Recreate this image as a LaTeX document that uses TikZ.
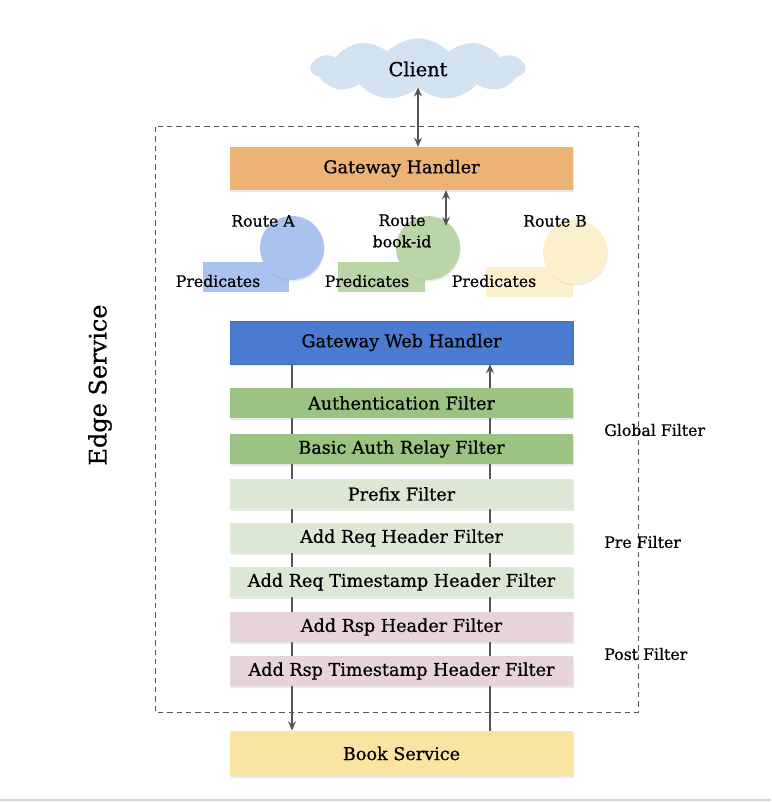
\documentclass[tikz,border=0pt]{standalone}
\usepackage{fontspec}
\setmainfont{DejaVu Serif}[FakeBold=0.6]
\usetikzlibrary{shapes.symbols,shadows,backgrounds,arrows.meta}

\definecolor{cloudblue}{HTML}{D3E2F1}
\definecolor{handlerorange}{HTML}{EDB276}
\definecolor{webblue}{HTML}{4A7BD1}
\definecolor{routeblue}{HTML}{A9C2EE}
\definecolor{routegreen}{HTML}{BAD6A8}
\definecolor{routeyellow}{HTML}{FCF0CC}
\definecolor{globalgreen}{HTML}{9DC384}
\definecolor{pregreen}{HTML}{DDE8D4}
\definecolor{postpink}{HTML}{E6D3DC}
\definecolor{serviceyellow}{HTML}{F9E4A2}
\definecolor{linegray}{HTML}{555555}

\tikzset{
  box/.style={rectangle, minimum width=257pt, minimum height=32pt, inner sep=0pt,
    font=\fontsize{13.2}{15}\selectfont,
    drop shadow={opacity=0.18, shadow xshift=0.6pt, shadow yshift=-1.4pt}},
  filterbox/.style={box, minimum height=22.5pt},
  routeball/.style={circle, minimum size=48pt, inner sep=0pt,
    drop shadow={opacity=0.15, shadow xshift=0.6pt, shadow yshift=-1.2pt}},
  predbox/.style={rectangle, minimum width=65pt, minimum height=22.5pt, inner sep=0pt},
  tag/.style={font=\fontsize{11.8}{14}\selectfont, inner sep=0pt},
  flow/.style={draw=linegray, line width=0.8pt, -{Stealth[length=7pt,width=6pt,inset=2.5pt]}},
  twoway/.style={flow, {Stealth[length=7pt,width=6pt,inset=2.5pt]}-{Stealth[length=7pt,width=6pt,inset=2.5pt]}}
}

\begin{document}
\begin{tikzpicture}[x=0.75pt,y=-0.75pt]
  \useasboundingbox (0,0) rectangle (771,802);
  % Border.
  \draw[linegray, line width=0.75pt, dash pattern=on 4pt off 3pt] (155,127) rectangle (638,712);
  \node[rotate=90, font=\fontsize{18}{22}\selectfont] (edge) at (100,385) {Edge Service};
  \draw[gray!35, line width=1.2pt] (0,800) -- (771,800);

  % Client and gateway.
  \node[cloud, cloud puffs=11, cloud puff arc=95, aspect=3.6, fill=cloudblue, minimum width=160pt, minimum height=46pt,
    inner sep=0pt, font=\fontsize{14.5}{16}\selectfont] (client) at (418,69) {Client};
  \node[box, fill=handlerorange] (gh) at (401.5,168.5) {Gateway Handler};
  \draw[twoway] (client.south) -- (client.south |- gh.north);

  % Routes.
  \node[predbox, fill=routeblue] (predA) at (246,277) {};
  \node[routeball, fill=routeblue] (routeA) at (292,248) {};
  \node[tag] (nameA) at (263,221) {Route A};
  \node[tag] (textA) at (218,281) {Predicates};

  \node[predbox, fill=routegreen] (predID) at (381.5,277) {};
  \node[routeball, fill=routegreen] (routeID) at (428,248) {};
  \node[tag, align=center] (nameID) at (402,231) {Route\\[2pt]book-id};
  \node[tag] (textID) at (367,281) {Predicates};

  \node[predbox, fill=routeyellow] (predB) at (529.5,282) {};
  \node[routeball, fill=routeyellow] (routeB) at (575,252) {};
  \node[tag] (nameB) at (555,221) {Route B};
  \node[tag] (textB) at (494,281) {Predicates};

  \coordinate (hookID) at (446,226);
  \draw[twoway] (hookID |- gh.south) -- (hookID);

  % Filter chain.
  \node[box, fill=webblue, draw=webblue!90!black, line width=0.4pt] (gwh) at (401.5,342.5) {Gateway Web Handler};
  \node[filterbox, fill=globalgreen] (auth) at (401.5,403) {Authentication Filter};
  \node[filterbox, fill=globalgreen] (relay) at (401.5,449) {Basic Auth Relay Filter};
  \node[filterbox, fill=pregreen] (prefix) at (401.5,494) {Prefix Filter};
  \node[filterbox, fill=pregreen] (reqhdr) at (401.5,538) {Add Req Header Filter};
  \node[filterbox, fill=pregreen] (reqts) at (401.5,582) {Add Req Timestamp Header Filter};
  \node[filterbox, fill=postpink] (rsphdr) at (401.5,627) {Add Rsp Header Filter};
  \node[filterbox, fill=postpink] (rspts) at (401.5,671) {Add Rsp Timestamp Header Filter};
  \node[box, fill=serviceyellow, minimum height=34pt] (book) at (401.5,753.5) {Book Service};

  \node[tag, anchor=west] (global) at (604,430) {Global Filter};
  \node[tag, anchor=west] (pre) at (604,542) {Pre Filter};
  \node[tag, anchor=west] (post) at (604,654) {Post Filter};

  % Request and response.
  \coordinate (down) at (292,0);
  \coordinate (up) at (490,0);
  \begin{scope}[on background layer]
    \draw[flow] (down |- gwh.south) -- (down |- book.north);
    \draw[flow] (up |- book.north) -- (up |- gwh.south);
  \end{scope}
\end{tikzpicture}
\end{document}
